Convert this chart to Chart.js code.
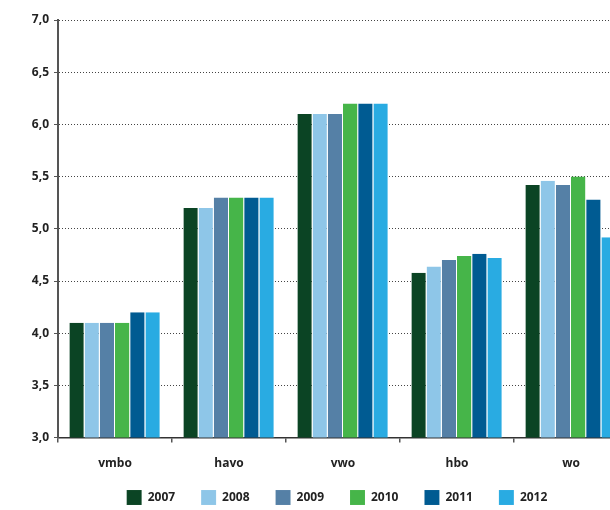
<!DOCTYPE html>
<html>
<head>
<meta charset="utf-8">
<script src="https://cdn.jsdelivr.net/npm/chart.js@4.4.1/dist/chart.umd.min.js"></script>
<style>
html,body{margin:0;padding:0;width:610px;height:510px;overflow:hidden;background:#fff;}
#wrap{position:absolute;left:0;top:0;width:628px;height:510px;}
</style>
</head>
<body>
<div id="wrap"><canvas id="c" width="628" height="510"></canvas></div>
<script>
const categories = ['vmbo', 'havo', 'vwo', 'hbo', 'wo'];
const years = ['2007', '2008', '2009', '2010', '2011', '2012'];
const s2007 = [4.1, 5.2, 6.1, 4.58, 5.42];
const s2008 = [4.1, 5.2, 6.1, 4.64, 5.46];
const s2009 = [4.1, 5.3, 6.1, 4.70, 5.42];
const s2010 = [4.1, 5.3, 6.2, 4.74, 5.50];
const s2011 = [4.2, 5.3, 6.2, 4.76, 5.28];
const s2012 = [4.2, 5.3, 6.2, 4.72, 4.92];
const yTickValues = [3.0, 3.5, 4.0, 4.5, 5.0, 5.5, 6.0, 6.5, 7.0];
const yTickLabels = ['3,0', '3,5', '4,0', '4,5', '5,0', '5,5', '6,0', '6,5', '7,0'];

const colors = ['#0b4424', '#8ec6e8', '#5580a6', '#46b549', '#005b92', '#29abe2'];
const series = [s2007, s2008, s2009, s2010, s2011, s2012];

const FONT = "'Open Sans', 'DejaVu Sans', sans-serif";

const legendTweak = {
  id: 'legendTweak',
  beforeLayout(chart) {
    const l = chart.legend;
    if (l && !l._patched) {
      const f = l.fit.bind(l);
      l.fit = function () { f(); this.height = 25; };
      l._patched = true;
    }
  },
  afterLayout(chart) {
    const l = chart.legend;
    if (l) {
      l.left -= 6; l.right -= 6;
      l.top -= 21;
      l.bottom = l.top + 46;
      l.height = 46;
    }
  }
};

new Chart(document.getElementById('c'), {
  type: 'bar',
  data: {
    labels: categories,
    datasets: series.map((d, i) => ({
      label: years[i],
      data: d,
      backgroundColor: colors[i],
      borderColor: 'rgba(255,255,255,0.3)',
      borderWidth: {left: 0, right: 1, top: 0, bottom: 0},
      barPercentage: 1.0,
      categoryPercentage: 0.8
    }))
  },
  plugins: [legendTweak],
  options: {
    responsive: false,
    animation: false,
    layout: {padding: {top: 20, right: 0, bottom: 0, left: 0}},
    plugins: {
      tooltip: {enabled: false},
      legend: {
        position: 'bottom',
        fullSize: false,
        labels: {
          boxWidth: 15,
          boxHeight: 15,
          padding: 26,
          color: '#222',
          font: {family: FONT, size: 12, weight: 'bold'}
        }
      }
    },
    scales: {
      x: {
        grid: {display: true, drawOnChartArea: false, drawTicks: true, tickLength: 5, color: '#555', lineWidth: 1.5, offset: true},
        border: {display: true, color: '#333', width: 1.5},
        ticks: {color: '#222', padding: 14, font: {family: FONT, size: 12, weight: 'bold'}}
      },
      y: {
        min: 3, max: 7,
        afterBuildTicks(scale) { scale.ticks = yTickValues.map(v => ({value: v})); },
        afterFit(scale) { scale.width = 58; },
        grid: {color: '#444', lineWidth: 1, tickLength: 4, tickBorderDash: [], tickColor: '#555'},
        border: {display: true, color: '#555', width: 2, dash: [1, 2]},
        ticks: {
          color: '#222', padding: 5,
          font: {family: FONT, size: 12, weight: 'bold'},
          callback: (v) => { const i = yTickValues.indexOf(v); return i >= 0 ? yTickLabels[i] : ''; }
        }
      }
    }
  }
});
</script>
</body>
</html>
